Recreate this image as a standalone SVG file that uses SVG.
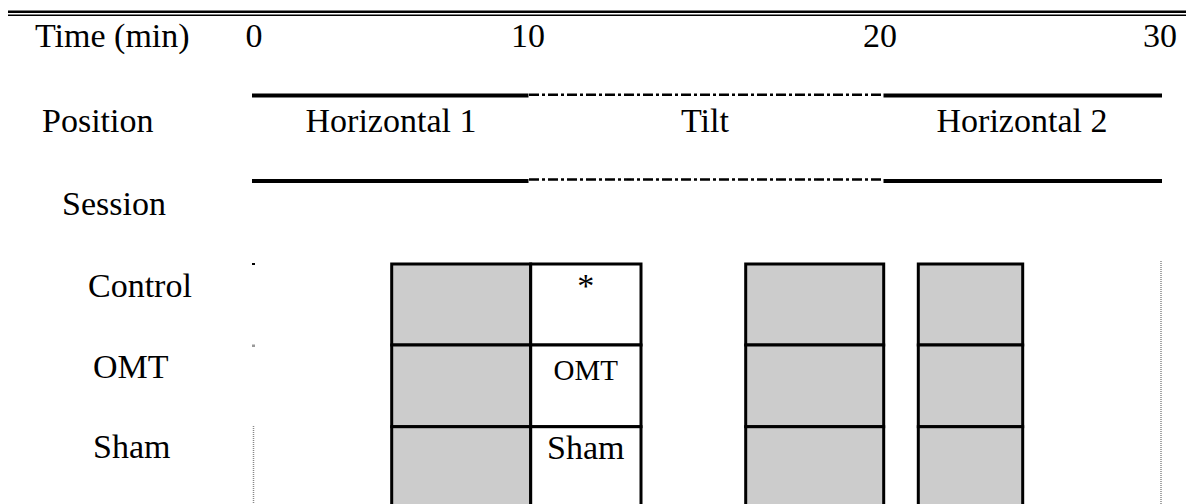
<svg xmlns="http://www.w3.org/2000/svg" width="1186" height="504" viewBox="0 0 1186 504" font-family="'Liberation Serif', 'Times New Roman', serif">
  <style>
    text { font-family: 'Liberation Serif', 'Times New Roman', serif; font-size: 34px; fill: #000; }
    .mid { text-anchor: middle; }
    .solid { stroke: #000; stroke-width: 4; fill: none; }
    .dash { stroke: #000; stroke-width: 2.5; fill: none; stroke-dasharray: 10 3 3 3; }
    .cell { stroke: #000; stroke-width: 3; }
    .grey { fill: #cccccc; }
    .white { fill: #ffffff; }
    .dot { stroke: #888; stroke-width: 1.5; stroke-dasharray: 1 1; fill: none; }
  </style>
  <rect width="1186" height="504" fill="#fff"/>

  <g id="rule">
    <rect x="8" y="10.5" width="1178" height="2.5" fill="#000"/>
    <rect x="8" y="14.5" width="1178" height="1.5" fill="#000"/>
  </g>

  <g id="labels">
    <text x="35" y="47">Time (min)</text>
    <text x="42" y="131.7">Position</text>
    <text x="62" y="215">Session</text>
    <text x="88" y="296.7">Control</text>
    <text x="93" y="378.3">OMT</text>
    <text x="93" y="458.3">Sham</text>
  </g>

  <g id="axis">
    <text class="mid" x="254" y="47">0</text>
    <text class="mid" x="528" y="47">10</text>
    <text class="mid" x="880" y="47">20</text>
    <text class="mid" x="1160" y="47">30</text>
  </g>

  <g id="connectors">
    <line class="solid" x1="252" y1="95.5" x2="528.5" y2="95.5"/>
    <line class="dash" x1="529" y1="94.8" x2="883" y2="94.8"/>
    <line class="solid" x1="883.5" y1="95.5" x2="1162" y2="95.5"/>
    <line class="solid" x1="252" y1="181" x2="528.5" y2="181"/>
    <line class="dash" x1="529" y1="179.5" x2="883" y2="179.5"/>
    <line class="solid" x1="883.5" y1="181" x2="1162" y2="181"/>
    <rect x="252" y="263" width="3" height="2" fill="#000"/>
    <rect x="252" y="344.5" width="3" height="2.5" fill="#999"/>
    <line class="dot" x1="253.5" y1="426" x2="253.5" y2="504"/>
    <line class="dot" x1="1161" y1="261" x2="1161" y2="504"/>
  </g>

  <g id="pos-h1"><text class="mid" x="391" y="131.7">Horizontal 1</text></g>
  <g id="pos-tilt"><text class="mid" x="705" y="131.7">Tilt</text></g>
  <g id="pos-h2"><text class="mid" x="1022" y="131.7">Horizontal 2</text></g>

  <g id="col1">
    <rect class="cell grey" x="391.7" y="264" width="139" height="81"/>
    <rect class="cell grey" x="391.7" y="345" width="139" height="81.7"/>
    <rect class="cell grey" x="391.7" y="426.7" width="139" height="90"/>
  </g>

  <g id="col2">
    <rect class="cell white" x="530.7" y="264" width="110.3" height="81"/>
    <rect class="cell white" x="530.7" y="345" width="110.3" height="81.7"/>
    <rect class="cell white" x="530.7" y="426.7" width="110.3" height="90"/>
    <text class="mid" x="585.8" y="296.7">*</text>
    <text class="mid" x="585.8" y="380" style="font-size:29px">OMT</text>
    <text class="mid" x="585.8" y="459">Sham</text>
  </g>

  <g id="col3">
    <rect class="cell grey" x="745.7" y="264" width="138" height="81"/>
    <rect class="cell grey" x="745.7" y="345" width="138" height="81.7"/>
    <rect class="cell grey" x="745.7" y="426.7" width="138" height="90"/>
  </g>

  <g id="col4">
    <rect class="cell grey" x="918.3" y="264" width="104.4" height="81"/>
    <rect class="cell grey" x="918.3" y="345" width="104.4" height="81.7"/>
    <rect class="cell grey" x="918.3" y="426.7" width="104.4" height="90"/>
  </g>
</svg>
